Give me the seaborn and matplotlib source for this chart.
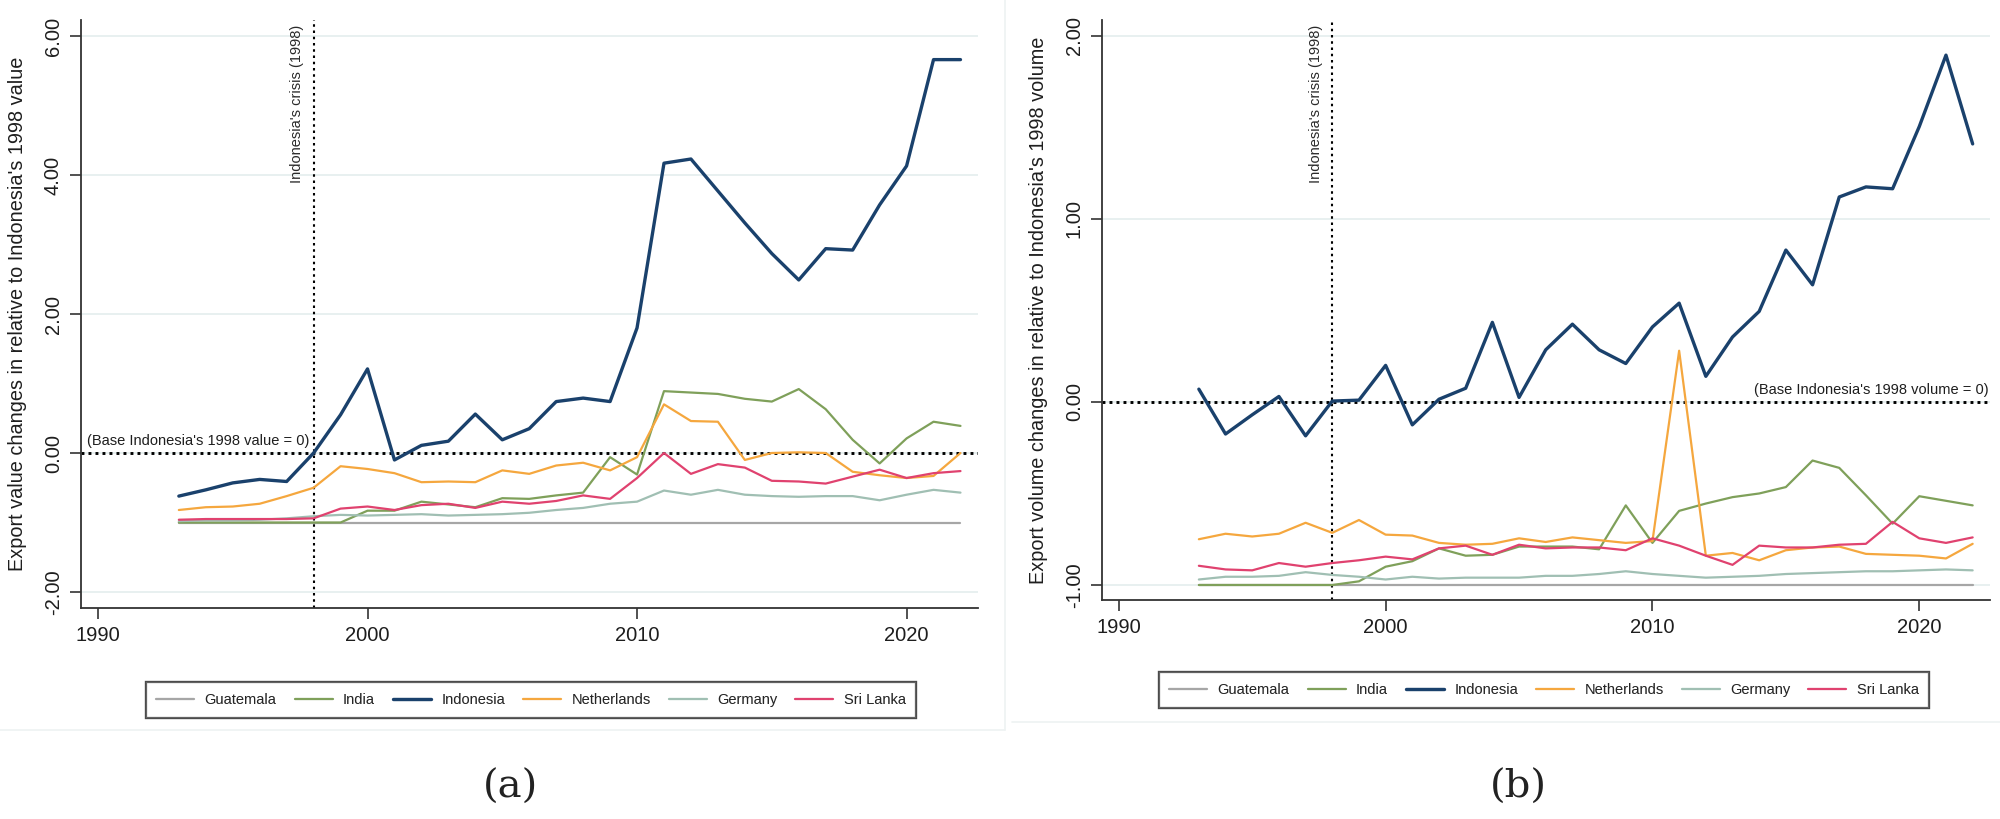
import pandas as pd
import matplotlib.pyplot as plt
import seaborn as sns
from matplotlib.lines import Line2D

sns.set_theme(style="white")
plt.rcParams['font.family'] = ['Liberation Sans', 'DejaVu Sans']

# Datos (1993-2022)
years = list(range(1993, 2023))
countries = ["Guatemala", "India", "Indonesia", "Netherlands", "Germany", "Sri Lanka"]

guatemala_value = [-1.0, -1.0, -1.0, -1.0, -1.0, -1.0, -1.0, -1.0, -1.0, -1.0,
                   -1.0, -1.0, -1.0, -1.0, -1.0, -1.0, -1.0, -1.0, -1.0, -1.0,
                   -1.0, -1.0, -1.0, -1.0, -1.0, -1.0, -1.0, -1.0, -1.0, -1.0]
india_value = [-1.0, -1.0, -1.0, -1.0, -1.0, -1.0, -1.0, -0.83, -0.83, -0.70,
               -0.74, -0.78, -0.65, -0.66, -0.61, -0.57, -0.06, -0.31, 0.89, 0.87,
               0.85, 0.78, 0.74, 0.92, 0.63, 0.19, -0.15, 0.21, 0.45, 0.39]
indonesia_value = [-0.62, -0.53, -0.43, -0.38, -0.41, 0.00, 0.55, 1.21, -0.10, 0.11,
                   0.17, 0.56, 0.19, 0.35, 0.74, 0.79, 0.74, 1.80, 4.17, 4.23,
                   3.77, 3.31, 2.87, 2.49, 2.94, 2.92, 3.57, 4.13, 5.66, 5.66]
netherlands_value = [-0.82, -0.78, -0.77, -0.73, -0.62, -0.50, -0.19, -0.23, -0.29, -0.42,
                     -0.41, -0.42, -0.25, -0.30, -0.18, -0.14, -0.25, -0.06, 0.70, 0.46,
                     0.45, -0.10, 0.00, 0.01, 0.00, -0.27, -0.32, -0.36, -0.33, 0.00]
germany_value = [-0.98, -0.97, -0.97, -0.96, -0.94, -0.91, -0.89, -0.90, -0.89, -0.88,
                 -0.90, -0.89, -0.88, -0.86, -0.82, -0.79, -0.73, -0.70, -0.54, -0.60,
                 -0.53, -0.60, -0.62, -0.63, -0.62, -0.62, -0.68, -0.60, -0.53, -0.57]
srilanka_value = [-0.96, -0.95, -0.95, -0.95, -0.95, -0.94, -0.80, -0.77, -0.82, -0.75,
                  -0.73, -0.79, -0.70, -0.73, -0.69, -0.61, -0.66, -0.36, 0.00, -0.30,
                  -0.16, -0.21, -0.40, -0.41, -0.44, -0.34, -0.24, -0.36, -0.29, -0.26]

guatemala_volume = [-1.0, -1.0, -1.0, -1.0, -1.0, -1.0, -1.0, -1.0, -1.0, -1.0,
                    -1.0, -1.0, -1.0, -1.0, -1.0, -1.0, -1.0, -1.0, -1.0, -1.0,
                    -1.0, -1.0, -1.0, -1.0, -1.0, -1.0, -1.0, -1.0, -1.0, -1.0]
india_volume = [-1.0, -1.0, -1.0, -1.0, -1.0, -1.0, -0.98, -0.90, -0.87, -0.80,
                -0.84, -0.835, -0.79, -0.79, -0.79, -0.805, -0.565, -0.77, -0.595, -0.555,
                -0.52, -0.50, -0.465, -0.32, -0.36, -0.51, -0.665, -0.515, -0.54, -0.565]
indonesia_volume = [0.07, -0.175, -0.07, 0.03, -0.185, 0.005, 0.01, 0.20, -0.125, 0.015,
                    0.075, 0.435, 0.025, 0.285, 0.425, 0.285, 0.21, 0.41, 0.54, 0.14,
                    0.355, 0.495, 0.83, 0.64, 1.12, 1.175, 1.165, 1.505, 1.895, 1.41]
netherlands_volume = [-0.75, -0.72, -0.735, -0.72, -0.66, -0.715, -0.645, -0.725, -0.73, -0.77,
                      -0.78, -0.775, -0.745, -0.765, -0.74, -0.755, -0.77, -0.76, 0.28, -0.84,
                      -0.825, -0.865, -0.81, -0.795, -0.79, -0.83, -0.835, -0.84, -0.855, -0.775]
germany_volume = [-0.97, -0.955, -0.955, -0.95, -0.93, -0.945, -0.955, -0.97, -0.955, -0.965,
                  -0.96, -0.96, -0.96, -0.95, -0.95, -0.94, -0.925, -0.94, -0.95, -0.96,
                  -0.955, -0.95, -0.94, -0.935, -0.93, -0.925, -0.925, -0.92, -0.915, -0.92]
srilanka_volume = [-0.895, -0.915, -0.92, -0.88, -0.90, -0.88, -0.865, -0.845, -0.86, -0.80,
                   -0.785, -0.835, -0.78, -0.80, -0.795, -0.795, -0.81, -0.745, -0.785, -0.84,
                   -0.89, -0.785, -0.795, -0.795, -0.78, -0.775, -0.655, -0.745, -0.77, -0.74]

colores = {"Guatemala": "#a6a6a6", "India": "#7fa05a", "Indonesia": "#1a416c",
           "Netherlands": "#f5a73e", "Germany": "#a0bfb3", "Sri Lanka": "#e0426f"}
grosores = {c: 1.6 for c in countries}
grosores["Indonesia"] = 2.4


def armar_df(series):
    filas = []
    for pais, vals in zip(countries, series):
        for y, v in zip(years, vals):
            filas.append({"year": y, "value": v, "country": pais})
    return pd.DataFrame(filas)


df_value = armar_df([guatemala_value, india_value, indonesia_value,
                     netherlands_value, germany_value, srilanka_value])
df_volume = armar_df([guatemala_volume, india_volume, indonesia_volume,
                      netherlands_volume, germany_volume, srilanka_volume])

fig = plt.figure(figsize=(20, 8.19), dpi=100)
ax1 = fig.add_axes([81 / 2000, 1 - 608 / 819, 897 / 2000, 588 / 819])
ax2 = fig.add_axes([1102 / 2000, 1 - 600 / 819, 888 / 2000, 580 / 819])


def dibujar(ax, df, yticks, ylim, ylabel, base_txt, base_x, base_y, base_ha, crisis_y):
    sns.lineplot(data=df, x="year", y="value", hue="country", size="country",
                 hue_order=countries, size_order=countries, palette=colores,
                 sizes=grosores, legend=False, ax=ax)
    ax.set_xlim(1989.37, 2022.65)
    ax.set_ylim(*ylim)
    ax.set_xticks([1990, 2000, 2010, 2020])
    ax.set_yticks(yticks)
    ax.set_yticklabels([f"{t:.2f}" for t in yticks], rotation=90, va="center")
    ax.tick_params(axis="both", labelsize=14.5, length=8, width=1.2, color="#333333",
                   labelcolor="#1e1e1e", direction="out", left=True, bottom=True, pad=5)
    ax.yaxis.grid(True, color="#e6efef", lw=1.3)
    ax.set_axisbelow(True)
    for s in ["top", "right"]:
        ax.spines[s].set_visible(False)
    for s in ["left", "bottom"]:
        ax.spines[s].set_color("#333333")
        ax.spines[s].set_linewidth(1.3)
    ax.set_xlabel("")
    ax.set_ylabel(ylabel, fontsize=14.3, color="#1e1e1e", labelpad=12)
    # lineas de referencia
    ax.axhline(0, color="black", lw=2.1, ls=(0, (1, 1.4)), zorder=1)
    ax.axvline(1998, color="black", lw=1.5, ls=(0, (1.2, 1.8)), zorder=1)
    ax.text(1997.4, crisis_y, "Indonesia's crisis (1998)", rotation=90, ha="center",
            va="top", fontsize=10.5, color="#2a2a2a")
    ax.text(base_x, base_y, base_txt, ha=base_ha, va="center", fontsize=10.5,
            color="#1e1e1e")


dibujar(ax1, df_value, [-2, 0, 2, 4, 6], (-2.23, 6.23),
        "Export value changes in relative to Indonesia's 1998 value",
        "(Base Indonesia's 1998 value = 0)", 1989.6, 0.17, "left", 6.16)
dibujar(ax2, df_volume, [-1, 0, 1, 2], (-1.082, 2.087),
        "Export volume changes in relative to Indonesia's 1998 volume",
        "(Base Indonesia's 1998 volume = 0)", 2022.6, 0.065, "right", 2.06)

# Leyendas
handles = [Line2D([0], [0], color=colores[c], lw=grosores[c]) for c in countries]
for cx, cy in [(531 / 2000, 1 - 700 / 819), (1544 / 2000, 1 - 690 / 819)]:
    leg = fig.legend(handles, countries, loc="center", bbox_to_anchor=(cx, cy),
                     ncol=6, fontsize=10.5, handlelength=2.6, handletextpad=0.7,
                     columnspacing=1.25, borderpad=0.75, fancybox=False, frameon=True)
    leg.get_frame().set_edgecolor("#444444")
    leg.get_frame().set_linewidth(1.6)
    fig.add_artist(leg)

# Bordes tenues de cada panel
fig.add_artist(Line2D([0, 1005 / 2000], [1 - 730 / 819] * 2, color="#eef2f2", lw=1.2))
fig.add_artist(Line2D([1005 / 2000] * 2, [1 - 730 / 819, 1], color="#eef2f2", lw=1.2))
fig.add_artist(Line2D([1012 / 2000, 1], [1 - 722 / 819] * 2, color="#eef2f2", lw=1.2))

# Etiquetas de panel
fig.text(510 / 2000, 1 - 787 / 819, "(a)", ha="center", va="center", fontsize=29,
         family="DejaVu Serif", color="#222222")
fig.text(1518 / 2000, 1 - 787 / 819, "(b)", ha="center", va="center", fontsize=29,
         family="DejaVu Serif", color="#222222")

fig.savefig("out.png", dpi=100)
